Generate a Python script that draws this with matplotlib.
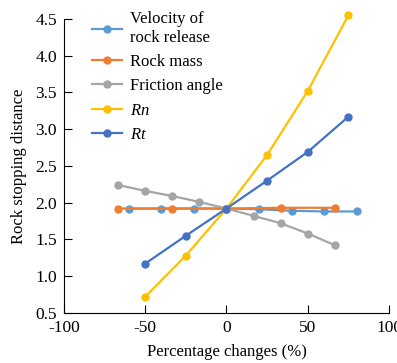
import matplotlib

matplotlib.use("Agg")
import matplotlib.pyplot as plt

plt.rcParams["font.family"] = ["Liberation Serif", "DejaVu Serif"]
plt.rcParams["mathtext.fontset"] = "custom"
plt.rcParams["mathtext.it"] = "Liberation Serif:italic"

# data
vel_x = [-60, -40, -20, 0, 20, 40, 60, 80]
vel_y = [1.92, 1.92, 1.92, 1.92, 1.91, 1.89, 1.88, 1.88]
mass_x = [-66.7, -33.3, 0, 33.3, 66.7]
mass_y = [1.92, 1.92, 1.92, 1.93, 1.93]
fric_x = [-66.7, -50, -33.3, -16.7, 0, 16.7, 33.3, 50, 66.7]
fric_y = [2.24, 2.16, 2.09, 2.01, 1.92, 1.82, 1.72, 1.58, 1.42]
rn_x = [-50, -25, 0, 25, 50, 75]
rn_y = [0.72, 1.28, 1.92, 2.65, 3.52, 4.55]
rt_x = [-50, -25, 0, 25, 50, 75]
rt_y = [1.17, 1.55, 1.92, 2.30, 2.69, 3.17]

series = [
    (vel_x, vel_y, "#5B9BD5", "Velocity of\nrock release"),
    (mass_x, mass_y, "#ED7D31", "Rock mass"),
    (fric_x, fric_y, "#A5A5A5", "Friction angle"),
    (rn_x, rn_y, "#FFC000", "$Rn$"),
    (rt_x, rt_y, "#4472C4", "$Rt$"),
]

fig = plt.figure(figsize=(3.97, 3.63), dpi=100)
ax = fig.add_axes([0.161, 0.138, 0.819, 0.81])

for xs, ys, c, lab in series:
    ax.plot(xs, ys, color=c, marker="o", markersize=5, linewidth=1.6,
            label=lab, clip_on=False)

ax.set_xlim(-100, 100)
ax.set_ylim(0.5, 4.5)
ax.set_xticks([-100, -50, 0, 50, 100])
ax.set_xticklabels(["-100", "-50", "0", "50", "100"])
ax.set_yticks([0.5, 1.0, 1.5, 2.0, 2.5, 3.0, 3.5, 4.0, 4.5])
ax.tick_params(direction="in", labelsize=12.5, length=6)
ax.tick_params(axis="x", pad=5)
ax.tick_params(axis="y", pad=5)
for s in ("top", "right"):
    ax.spines[s].set_visible(False)
ax.set_xlabel("Percentage changes (%)", fontsize=12, labelpad=6)
ax.set_ylabel("Rock stopping distance", fontsize=12, labelpad=6)

ax.legend(loc="upper left", bbox_to_anchor=(0.055, 1.06), frameon=False,
          fontsize=12, handlelength=1.8, handletextpad=0.5,
          borderaxespad=0.2, labelspacing=0.5)

fig.savefig("out.png", dpi=100)
